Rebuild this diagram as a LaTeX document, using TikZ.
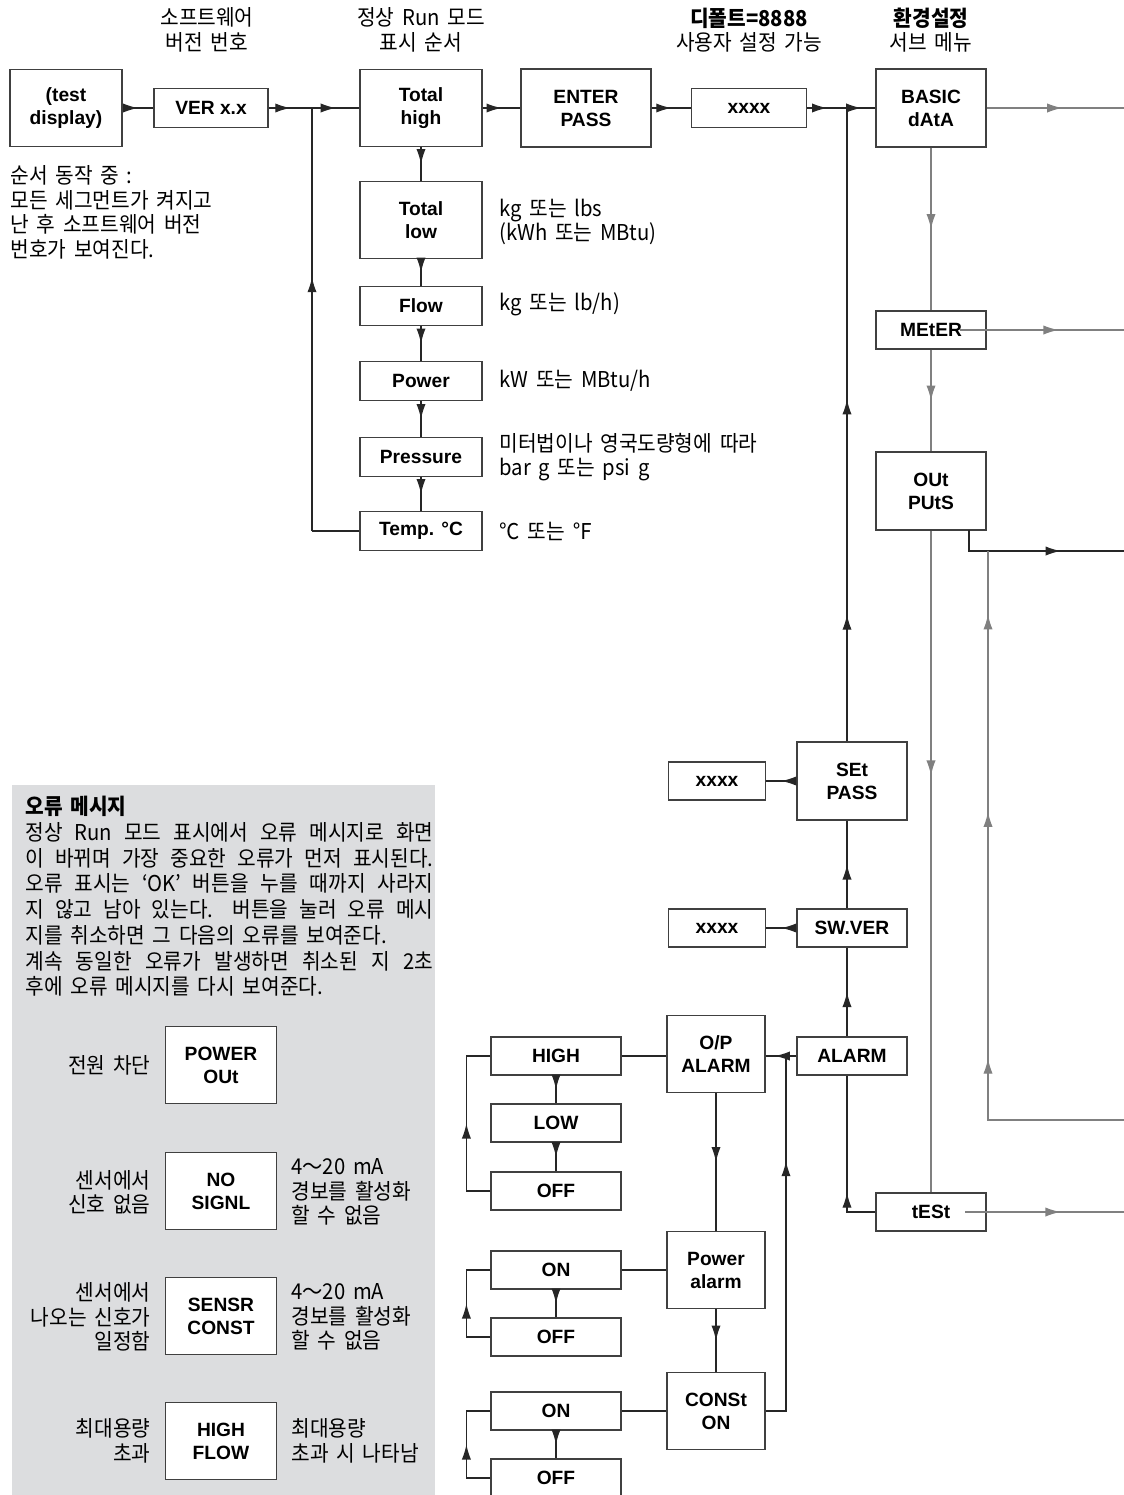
\documentclass[tikz,border=0pt]{standalone}
\usepackage{fontspec}
\setmainfont{Noto Sans CJK KR}[FakeStretch=0.93,WordSpace=1.7]
\newfontfamily\boxfont{Liberation Sans}
\usetikzlibrary{arrows.meta,decorations.markings}
\definecolor{panelgray}{HTML}{DCDDDF}

\begin{document}
\begin{tikzpicture}
  [x=0.5pt,y=-0.5pt,>={Latex[length=7.5pt,width=4.6pt]},
   every node/.style={font=\fontsize{10.9}{12.2}\selectfont,align=center,inner sep=0pt},
   box/.style 2 args={draw=black!75,fill=white,line width=0.6pt,
     minimum width=#1*0.5pt,minimum height=#2*0.5pt,
     font=\boxfont\bfseries\fontsize{9.6}{11.5}\selectfont},
   wire/.style={draw=black!85,line width=0.6pt},
   gwire/.style={draw=black!50,line width=0.6pt},
   arr/.style={postaction={decorate},decoration={markings,
     mark=at position #1 with {\arrow{>}}}},
   arr/.default=0.5]
  \useasboundingbox (0,0) rectangle (1124,1495);

  % error message panel
  \fill[panelgray] (12,785) rectangle (435,1500);

  % power-up and run mode
  \node[box={112}{77}] (test) at (66,108) {(test\\display)};
  \node[box={114}{39}] (ver) at (211,108) {VER x.x};
  \coordinate (j1) at (312,108);
  \node[box={122}{77}] (thigh) at (421,108) {Total\\high};
  \node[box={130}{78}] (enter) at (586,108) {ENTER\\PASS};
  \node[box={115}{39}] (pass) at (749,108) {xxxx};
  \coordinate (j2) at (847,108);
  \node[box={110}{78}] (basic) at (931,108) {BASIC\\dAtA};
  \coordinate (bout) at (1124,108);

  \node[box={122}{77}] (tlow) at (421,220) {Total\\low};
  \node[box={122}{39}] (flow) at (421,306) {Flow};
  \node[box={122}{39}] (power) at (421,381) {Power};
  \node[box={122}{39}] (press) at (421,457) {Pressure};
  \node[box={122}{39}] (temp) at (421,531) {Temp. °C};
  \coordinate (tback) at (312,531);

  % set-up sub menu
  \node[box={110}{38}] (meter) at (931,330) {MEtER};
  \node[box={110}{78}] (outs) at (931,491) {OUt\\PUtS};
  \node[box={110}{38}] (tst) at (931,1212) {tESt};
  \coordinate (mout) at (960,330);
  \coordinate (mend) at (1124,330);
  \coordinate (oleave) at (969,530);
  \coordinate (oend) at (1124,551);
  \coordinate (lin) at (1124,1120);
  \coordinate (ljoin) at (988,551);
  \coordinate (tout) at (965,1212);
  \coordinate (tend) at (1124,1212);

  \node[box={110}{78}] (setpass) at (852,781) {SEt\\PASS};
  \node[box={97}{38}] (newpass) at (717,781) {xxxx};
  \node[box={110}{38}] (swver) at (852,928) {SW.VER};
  \node[box={97}{38}] (verno) at (717,928) {xxxx};
  \node[box={110}{38}] (alarm) at (852,1056) {ALARM};

  % alarm settings
  \node[box={98}{77}] (opal) at (716,1054) {O/P\\ALARM};
  \node[box={98}{77}] (pwal) at (716,1270) {Power\\alarm};
  \node[box={98}{77}] (const) at (716,1411) {CONSt\\ON};
  \coordinate (cjoin) at (786,1056);
  \node[box={130}{38}] (high) at (556,1056) {HIGH};
  \node[box={130}{38}] (low) at (556,1123) {LOW};
  \node[box={130}{38}] (off) at (556,1191) {OFF};
  \node[box={130}{38}] (pon) at (556,1270) {ON};
  \node[box={130}{38}] (poff) at (556,1337) {OFF};
  \node[box={130}{38}] (con) at (556,1411) {ON};
  \node[box={130}{38}] (coff) at (556,1478) {OFF};

  % top row
  \foreach \from/\to in {test/ver,ver/j1,j1/thigh,thigh/enter,enter/pass,pass/j2,j2/basic}
    \draw[wire,arr] (\from) -- (\to);
  \draw[gwire,arr=0.55] (basic) -- (bout);

  % run mode sequence
  \foreach \from/\to in {thigh/tlow,tlow/flow,flow/power,power/press,press/temp}
    \draw[wire,arr] (\from) -- (\to);
  \draw[wire] (temp) -- (tback);
  \draw[wire,arr=0.6] (tback) -- (j1);

  % set-up column
  \draw[gwire,arr] (basic) -- (meter);
  \draw[gwire,arr] (meter) -- (outs);
  \draw[gwire,arr=0.37] (outs) -- (tst);
  \draw[gwire,arr=0.6] (mout) -- (mend);
  \draw[wire,arr=0.64] (oleave) |- (oend);
  \draw[gwire,postaction={decorate},decoration={markings,
      mark=at position 0.28 with {\arrow{>}},
      mark=at position 0.63 with {\arrow{>}},
      mark=at position 0.91 with {\arrow{>}}}] (lin) -| (ljoin);
  \draw[gwire,arr=0.6] (tout) -- (tend);
  \draw[wire,arr=0.29] (tst.west) -| (alarm.south -| j2);

  \draw[wire,arr] (alarm.north -| j2) -- (swver.south -| j2);
  \draw[wire,arr] (swver.north -| j2) -- (setpass.south -| j2);
  \draw[wire,postaction={decorate},decoration={markings,
      mark=at position 0.2 with {\arrow{>}},
      mark=at position 0.54 with {\arrow{>}}}] (setpass.north -| j2) -- (j2);
  \draw[wire,arr] (setpass) -- (newpass);
  \draw[wire,arr] (swver) -- (verno);
  \draw[wire,arr=0.7] (alarm.west) -- (alarm.west -| opal.east);

  % alarm column
  \draw[wire,arr] (opal) -- (pwal);
  \draw[wire,arr] (pwal) -- (const);
  \draw[wire,arr=0.72] (const.east) -| (cjoin);
  \draw[wire] (high) -- (high -| opal.west);
  \draw[wire] (pon) -- (pwal);
  \draw[wire] (con) -- (const);
  \foreach \from/\to in {high/low,low/off,pon/poff,con/coff}
    \draw[wire,arr] (\from) -- (\to);
  \draw[wire,arr] (off.west) -- ++(-24,0) |- (high.west);
  \draw[wire,arr] (poff.west) -- ++(-24,0) |- (pon.west);
  \draw[wire,arr] (coff.west) -- ++(-24,0) |- (con.west);

  % headings
  \node (hver) at (207,30) {소프트웨어\\버전 번호};
  \node (hrun) at (421,30) {정상 Run 모드\\표시 순서};
  \node (hpass) at (749,30) {{\bfseries 디폴트=8888}\\사용자 설정 가능};
  \node (hsetup) at (931,30) {{\bfseries 환경설정}\\서브 메뉴};

  % notes
  \node[anchor=north west,align=left,font=\fontsize{10.9}{12.35}\selectfont] (seqnote) at (10,165)
    {순서 동작 중 :\\모든 세그먼트가 켜지고\\난 후 소프트웨어 버전\\번호가 보여진다.};
  \node[anchor=west,align=left] (ntlow) at (499,222) {kg 또는 lbs\\(kWh 또는 MBtu)};
  \node[anchor=west] (nflow) at (499,304) {kg 또는 lb/h)};
  \node[anchor=west] (npower) at (499,381) {kW 또는 MBtu/h};
  \node[anchor=west,align=left] (npress) at (499,457) {미터법이나 영국도량형에 따라\\bar g 또는 psi g};
  \node[anchor=west] (ntemp) at (499,531) {℃ 또는 ℉};

  % error messages
  \node[anchor=north west,text width=204pt,align=justify,
    font=\fontsize{10.9}{12.85}\selectfont] (errtext) at (25,796)
    {{\bfseries 오류 메시지}\par
     정상 Run 모드 표시에서 오류 메시지로 화면\linebreak
     이 바뀌며 가장 중요한 오류가 먼저 표시된다.\linebreak
     오류 표시는 ‘OK’ 버튼을 누를 때까지 사라지\linebreak
     지 않고 남아 있는다. 버튼을 눌러 오류 메시\linebreak
     지를 취소하면 그 다음의 오류를 보여준다.\par
     계속 동일한 오류가 발생하면 취소된 지 2초\linebreak
     후에 오류 메시지를 다시 보여준다.};

  \node[box={111}{77}] (pout) at (221,1065) {POWER\\OUt};
  \node[box={111}{77}] (nosig) at (221,1191) {NO\\SIGNL};
  \node[box={111}{77}] (sconst) at (221,1316) {SENSR\\CONST};
  \node[box={111}{77}] (hflow) at (221,1441) {HIGH\\FLOW};

  \node[anchor=east,align=right] (lpout) at (151,1065) {전원 차단};
  \node[anchor=east,align=right] (lnosig) at (151,1192) {센서에서\\신호 없음};
  \node[anchor=east,align=right] (lsconst) at (151,1317) {센서에서\\나오는 신호가\\일정함};
  \node[anchor=east,align=right] (lhflow) at (151,1441) {최대용량\\초과};
  \node[anchor=west,align=left] (rnosig) at (291,1192) {4～20 mA\\경보를 활성화\\할 수 없음};
  \node[anchor=west,align=left] (rsconst) at (291,1317) {4～20 mA\\경보를 활성화\\할 수 없음};
  \node[anchor=west,align=left] (rhflow) at (291,1441) {최대용량\\초과 시 나타남};
\end{tikzpicture}
\end{document}
